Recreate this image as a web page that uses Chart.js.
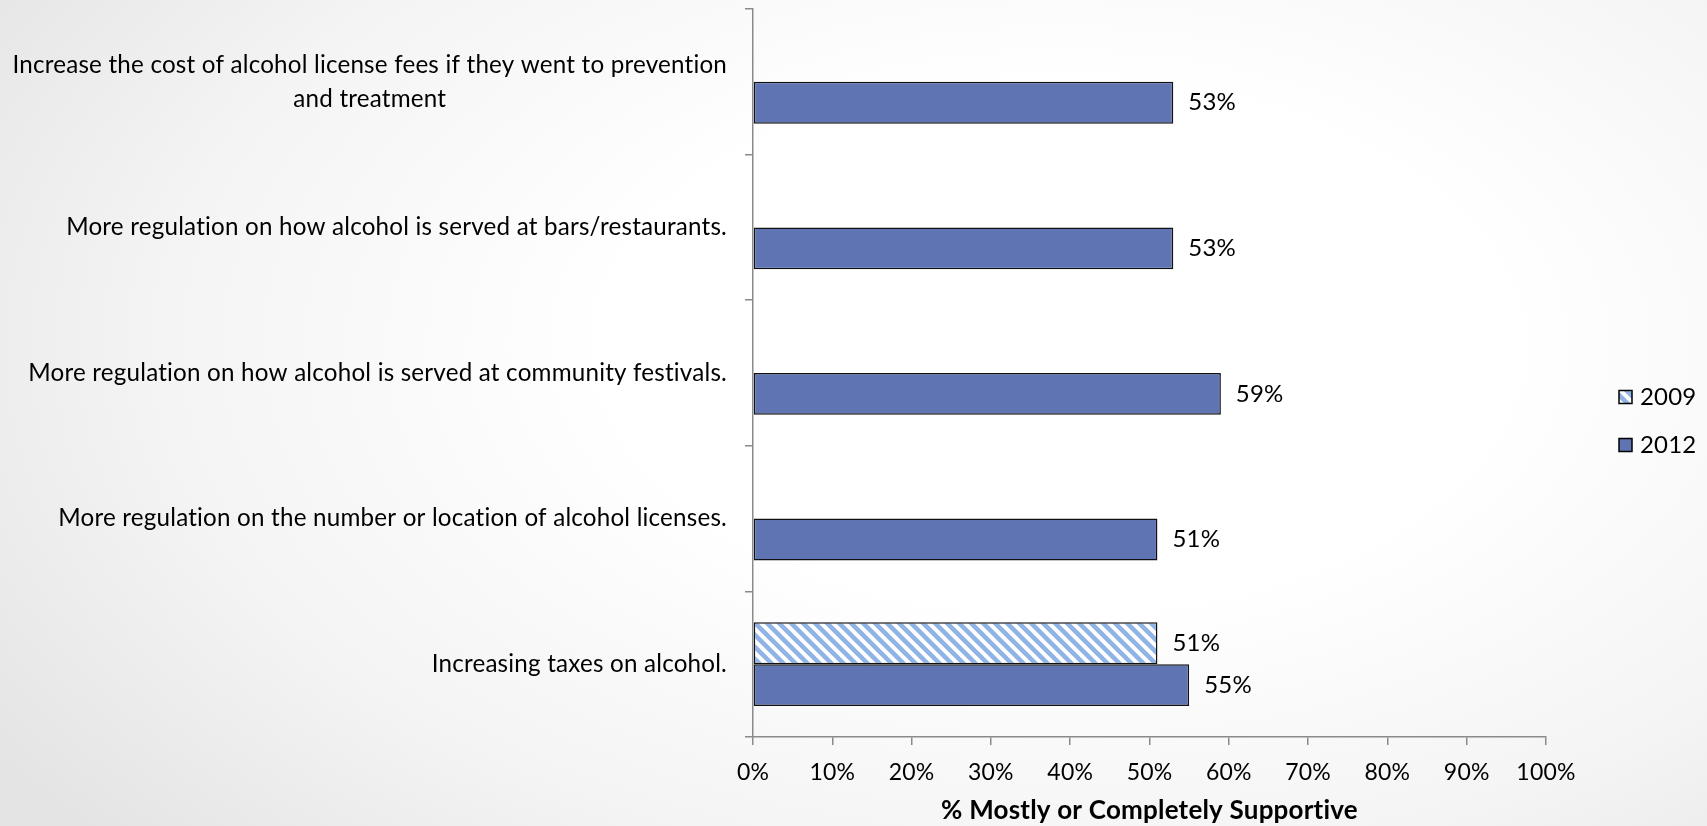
<!DOCTYPE html>
<html>
<head>
<meta charset="utf-8">
<title>Support for alcohol policies</title>
<style>
html, body { margin: 0; padding: 0; }
body {
  width: 1707px; height: 826px; overflow: hidden;
  background: radial-gradient(ellipse 75% 90% at 62% 42%, #ffffff 35%, #f4f4f4 70%, #e4e4e4 100%);
}
canvas { display: block; }
</style>
</head>
<body>
<canvas id="chart" width="1707" height="826"></canvas>
<script src="https://cdn.jsdelivr.net/npm/chart.js"></script>
<script>
  // survey items, top to bottom (first one wraps onto two lines)
  const categories = [
    ['Increase the cost of alcohol license fees if they went to prevention', 'and treatment'],
    'More regulation on how alcohol is served at bars/restaurants.',
    'More regulation on how alcohol is served at community festivals.',
    'More regulation on the number or location of alcohol licenses.',
    'Increasing taxes on alcohol.'
  ];
  const years = ['2009', '2012'];
  const support2009 = [null, null, null, null, 51];
  const support2012 = [53, 53, 59, 51, 55];
  const axisMin = 0, axisMax = 100, axisStep = 10;
  const axisTitle = '% Mostly or Completely Supportive';

  const FONT = 'Lato, "Open Sans", sans-serif';
  const axisGray = '#8a8a8a';
  const blue2012 = '#5f74b2';

  // diagonal light-blue hatching used for the 2009 bars
  function makeHatch() {
    const c = document.createElement('canvas');
    c.width = 12; c.height = 12;
    const g = c.getContext('2d');
    g.fillStyle = '#ffffff';
    g.fillRect(0, 0, 12, 12);
    g.strokeStyle = '#8fb3e4';
    g.lineWidth = 4.5;
    for (let k = -12; k <= 12; k += 12) {
      g.beginPath();
      g.moveTo(k - 2, -2);
      g.lineTo(k + 14, 14);
      g.stroke();
    }
    return g.createPattern(c, 'repeat');
  }

  const ctx = document.getElementById('chart');
  const hatch = makeHatch();

  // a little letter spacing keeps Lato from joining "ti" into a ligature
  const noLigatures = {
    id: 'noLigatures',
    beforeDraw(chart) { chart.ctx.letterSpacing = '0.2px'; }
  };

  // category labels: right aligned block, lines centred within the block
  const yLabels = {
    id: 'yLabels',
    afterDraw(chart) {
      const y = chart.scales.y;
      const g = chart.ctx;
      const right = chart.chartArea.left - 26;
      const lineH = 34;
      g.save();
      g.font = '24.2px ' + FONT;
      g.fillStyle = '#000';
      g.textBaseline = 'middle';
      g.textAlign = 'center';
      categories.forEach((lab, i) => {
        const lines = Array.isArray(lab) ? lab : [lab];
        const w = Math.max(...lines.map(l => g.measureText(l).width));
        const cx = right - w / 2;
        const cy = y.getPixelForValue(i);
        lines.forEach((l, j) => {
          g.fillText(l, cx, cy + (j - (lines.length - 1) / 2) * lineH);
        });
      });
      g.restore();
    }
  };

  // value labels just past the end of each bar
  const valueLabels = {
    id: 'valueLabels',
    afterDatasetsDraw(chart) {
      const g = chart.ctx;
      g.save();
      g.font = '24px ' + FONT;
      g.fillStyle = '#000';
      g.textBaseline = 'middle';
      g.textAlign = 'left';
      chart.data.datasets.forEach((ds, di) => {
        const meta = chart.getDatasetMeta(di);
        meta.data.forEach((bar, i) => {
          const v = ds.data[i];
          if (v === null || v === undefined) return;
          g.fillText(v + '%', bar.x + 15, bar.y);
        });
      });
      g.restore();
    }
  };

  // legend at the right edge
  const sideLegend = {
    id: 'sideLegend',
    afterDraw(chart) {
      const g = chart.ctx;
      const x = 1619, y0 = 397, gap = 48, box = 13;
      g.save();
      g.font = '24px ' + FONT;
      g.textBaseline = 'middle';
      g.textAlign = 'left';
      chart.data.datasets.forEach((ds, i) => {
        const cy = y0 + i * gap;
        g.fillStyle = ds.backgroundColor;
        g.fillRect(x, cy - box / 2, box, box);
        g.strokeStyle = '#000';
        g.lineWidth = 1.5;
        g.strokeRect(x, cy - box / 2, box, box);
        g.fillStyle = '#000';
        g.fillText(ds.label, x + 21, cy);
      });
      g.restore();
    }
  };

  new Chart(ctx, {
    type: 'bar',
    data: {
      labels: categories,
      datasets: [
        {
          label: years[0],
          data: support2009,
          backgroundColor: hatch,
          borderColor: '#111',
          borderWidth: 1.5,
          borderSkipped: false
        },
        {
          label: years[1],
          data: support2012,
          backgroundColor: blue2012,
          borderColor: '#111',
          borderWidth: 1.5,
          borderSkipped: false
        }
      ]
    },
    options: {
      indexAxis: 'y',
      responsive: false,
      animation: false,
      categoryPercentage: 0.575,
      barPercentage: 1,
      layout: { padding: { left: 745, right: 161, top: 9, bottom: 0 } },
      plugins: {
        legend: { display: false },
        tooltip: { enabled: false }
      },
      scales: {
        x: {
          min: axisMin,
          max: axisMax,
          afterFit(s) { s.height = 89; },
          ticks: {
            stepSize: axisStep,
            padding: 14,
            color: '#000',
            font: { family: FONT, size: 23 },
            callback: v => v + '%'
          },
          grid: { drawOnChartArea: false, tickLength: 8, color: axisGray, lineWidth: 1.5 },
          border: { color: axisGray, width: 1.5 },
          title: {
            display: true,
            text: axisTitle,
            color: '#000',
            font: { family: FONT, size: 26, weight: 'bold' },
            padding: { top: 0, bottom: 0 }
          }
        },
        y: {
          afterFit(s) { s.width = 8; },
          ticks: { display: false },
          grid: { drawOnChartArea: false, tickLength: 8, color: axisGray, lineWidth: 1.5, offset: true },
          border: { color: axisGray, width: 1.5 }
        }
      }
    },
    plugins: [noLigatures, yLabels, valueLabels, sideLegend]
  });
</script>
</body>
</html>
